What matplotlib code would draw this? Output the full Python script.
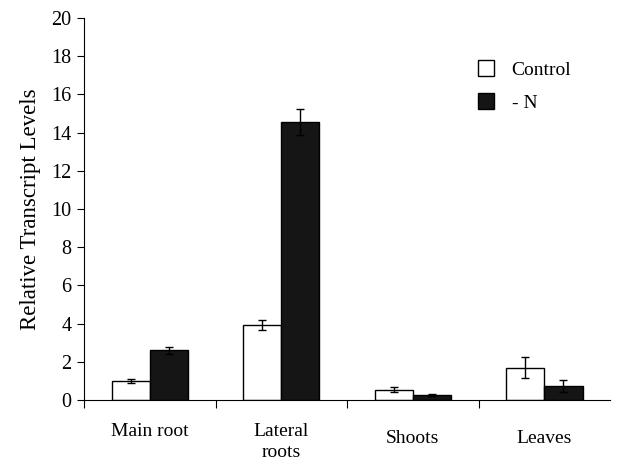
import matplotlib.pyplot as plt
import numpy as np

# values
tissues = ['Main root', 'Lateral\nroots', 'Shoots', 'Leaves']
control = [1.0, 3.95, 0.55, 1.7]
control_err = [0.1, 0.27, 0.14, 0.55]
minus_n = [2.6, 14.55, 0.27, 0.75]
minus_n_err = [0.18, 0.7, 0.03, 0.32]

plt.rcParams['font.family'] = ['Liberation Serif', 'DejaVu Serif']

fig = plt.figure(figsize=(6.22, 4.61), dpi=100)
ax = fig.add_axes([0.135, 0.132, 0.846, 0.829])

x = np.arange(len(tissues))
w = 0.29
ax.bar(x - w / 2, control, w, color='white', edgecolor='black', linewidth=1, label='Control')
ax.bar(x + w / 2, minus_n, w, color='#151515', edgecolor='black', linewidth=1, label='- N')
ax.errorbar(x - w / 2, control, yerr=control_err, fmt='none', ecolor='black',
            elinewidth=1, capsize=3, capthick=1)
ax.errorbar(x + w / 2, minus_n, yerr=minus_n_err, fmt='none', ecolor='black',
            elinewidth=1, capsize=3, capthick=1)

ax.set_xlim(-0.5, 3.5)
ax.set_ylim(0, 20)
ax.set_yticks(np.arange(0, 21, 2))
ax.set_xticks([-0.5, 0.5, 1.5, 2.5])
ax.set_xticklabels([])
ax.tick_params(axis='y', direction='out', length=5, labelsize=14.5, pad=4)
ax.tick_params(axis='x', direction='out', length=6)
ax.spines['top'].set_visible(False)
ax.spines['right'].set_visible(False)

# category labels (shoots/leaves sit a bit lower than the others)
label_y = [-1.2, -1.2, -1.55, -1.55]
for xi, lab, ly in zip(x, tissues, label_y):
    ax.text(xi, ly, lab, ha='center', va='top', fontsize=14, linespacing=1.3,
            clip_on=False)

ax.set_ylabel('Relative Transcript Levels', fontsize=16.5, labelpad=7)

ax.legend(loc='upper left', bbox_to_anchor=(0.715, 0.935), frameon=False,
          fontsize=14, handlelength=0.85, handleheight=0.85, labelspacing=0.75,
          handletextpad=0.9)

fig.savefig('out.png', dpi=100)
